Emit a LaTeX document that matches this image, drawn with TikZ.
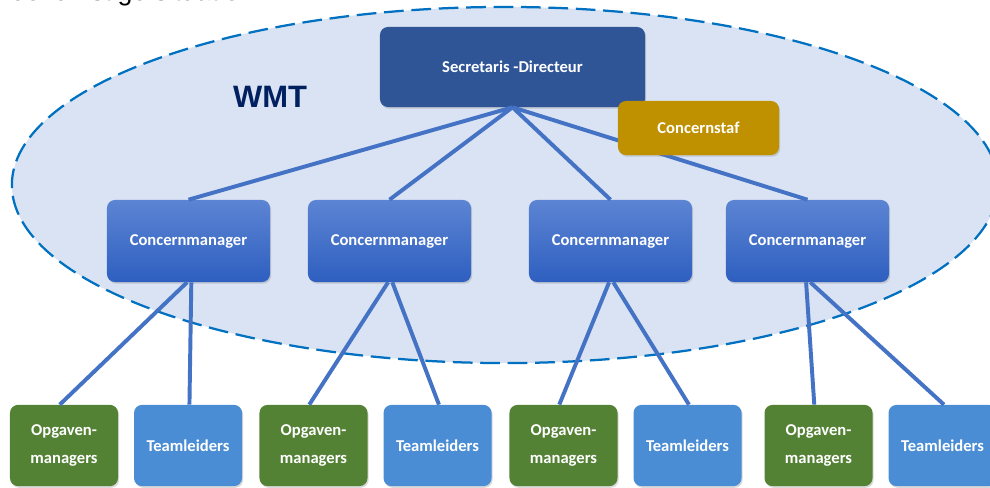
\documentclass[tikz,border=0pt]{standalone}
\usepackage{fontspec}
\setmainfont{Carlito}
\newfontfamily\titelfont{Liberation Sans}
\usetikzlibrary{positioning, shadows}

\definecolor{wmtfill}{HTML}{DAE3F3}
\definecolor{wmtdash}{HTML}{0070C0}
\definecolor{wmttext}{HTML}{002060}
\definecolor{sdblue}{HTML}{2F5597}
\definecolor{stafgold}{HTML}{BF9000}
\definecolor{cmtop}{HTML}{5C84D3}
\definecolor{cmbottom}{HTML}{2E5FC0}
\definecolor{oggreen}{HTML}{548235}
\definecolor{tlblue}{HTML}{4A8DD5}
\definecolor{linkblue}{HTML}{4472C4}

\tikzset{
  box/.style={rounded corners=0.2cm, text=white, align=center,
    font=\bfseries\fontsize{11.8}{14}\selectfont,
    drop shadow={opacity=0.3, shadow xshift=0.8pt, shadow yshift=-1.2pt}},
  sdbox/.style={box, fill=sdblue, minimum width=6.625cm, minimum height=2cm},
  stafbox/.style={box, fill=stafgold, minimum width=4.025cm, minimum height=1.35cm},
  cmbox/.style={box, top color=cmtop, bottom color=cmbottom,
    minimum width=4.075cm, minimum height=2.05cm},
  ogbox/.style={box, fill=oggreen, minimum width=2.7cm, minimum height=2.03cm,
    font=\bfseries\fontsize{11.8}{20}\selectfont},
  tlbox/.style={box, fill=tlblue, minimum width=2.7cm, minimum height=2.03cm},
  link/.style={draw=linkblue, line width=2.8pt},
}

\begin{document}
\begin{tikzpicture}[x=0.025cm, y=-0.025cm, node distance=3.1cm, on grid]

  \useasboundingbox (0,0) rectangle (990,487);
  \clip (0,0) rectangle (990,487);

  % title, cut off at the top
  \node[anchor=base west, inner sep=0pt, font=\titelfont\fontsize{19}{22}\selectfont]
    (titel) at (-3,0.5) {Toekomstige situatie};

  % the WMT ellipse
  \draw[wmtdash, fill=wmtfill, line width=1.6pt, dash pattern=on 14pt off 5.5pt]
    (505,185) ellipse [x radius=12.325cm, y radius=4.45cm];
  \node[font=\titelfont\bfseries\fontsize{22}{26}\selectfont, text=wmttext]
    (wmt) at (270,97) {WMT};

  % top
  \node[sdbox] (sd) at (512.5,67) {Secretaris -Directeur};

  % concernmanagers
  \node[cmbox] (cm1) at (188.5,241) {Concernmanager};
  \node[cmbox] (cm2) at (389.5,241) {Concernmanager};
  \node[cmbox] (cm3) at (610.5,241) {Concernmanager};
  \node[cmbox] (cm4) at (807.5,241) {Concernmanager};

  % opgavenmanagers and teamleiders
  \node[ogbox] (og1) at (64,445.5) {Opgaven-\\managers};
  \node[tlbox, right=of og1] (tl1) {Teamleiders};
  \node[ogbox] (og2) at (313.5,445.5) {Opgaven-\\managers};
  \node[tlbox, right=of og2] (tl2) {Teamleiders};
  \node[ogbox] (og3) at (563.5,445.5) {Opgaven-\\managers};
  \node[tlbox, right=of og3] (tl3) {Teamleiders};
  \node[ogbox] (og4) at (818.5,445.5) {Opgaven-\\managers};
  \node[tlbox, right=of og4] (tl4) {Teamleiders};

  % lines
  \foreach \i in {1,2,3,4}
    \path[link] (sd.south) -- (cm\i.north);
  \foreach \i in {1,2,3,4} {
    \path[link] ([xshift=-1pt]cm\i.south) -- ([xshift=-3pt]og\i.north);
    \path[link] ([xshift=2pt]cm\i.south) -- ([xshift=1pt]tl\i.north);
  }

  % concernstaf on top of the line to cm4
  \node[stafbox] (staf) at (698.5,128) {Concernstaf};

\end{tikzpicture}
\end{document}
